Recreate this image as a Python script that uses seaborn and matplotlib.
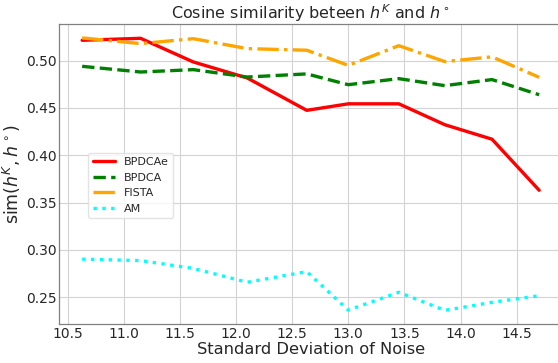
import matplotlib
matplotlib.use("Agg")
import matplotlib.pyplot as plt
import seaborn as sns
import pandas as pd

noise_std = [10.63, 11.15, 11.62, 12.10, 12.63, 13.00, 13.45, 13.86, 14.28, 14.70]
bpdcae = [0.5215, 0.5236, 0.4986, 0.4817, 0.4475, 0.4544, 0.4544, 0.4323, 0.4170, 0.3631]
bpdca = [0.4940, 0.4880, 0.4905, 0.4827, 0.4860, 0.4746, 0.4810, 0.4736, 0.4800, 0.4640]
fista = [0.5240, 0.5180, 0.5232, 0.5127, 0.5110, 0.4950, 0.5158, 0.4990, 0.5040, 0.4824]
am = [0.2903, 0.2888, 0.2805, 0.2659, 0.2771, 0.2365, 0.2553, 0.2362, 0.2447, 0.2517]

series_names = ["BPDCAe", "BPDCA", "FISTA", "AM"]
series_values = [bpdcae, bpdca, fista, am]
colors = ["red", "green", "orange", "cyan"]
styles = ["-", "--", "-.", ":"]

sns.set_theme(style="whitegrid")
plt.rcParams["font.family"] = ["DejaVu Sans"]
plt.rcParams["mathtext.fontset"] = "dejavusans"

fig = plt.figure(figsize=(5.58, 3.63), dpi=100)
ax = fig.add_axes([59.3 / 558, 39 / 363, 502.7 / 558, 299.7 / 363])

for name, vals, c, ls in zip(series_names, series_values, colors, styles):
    df = pd.DataFrame({"x": noise_std, "y": vals})
    sns.lineplot(data=df, x="x", y="y", ax=ax, color=c, linestyle=ls,
                 linewidth=2.4, label=name)

ax.set_title(r"Cosine similarity beteen $h^K$ and $h^\circ$", fontsize=11.5, pad=4)
ax.set_xlabel("Standard Deviation of Noise", fontsize=11.7, labelpad=1)
ax.set_ylabel(r"sim($h^K, h^\circ$)", fontsize=12.5, labelpad=2)
ax.set_xticks([10.5, 11.0, 11.5, 12.0, 12.5, 13.0, 13.5, 14.0, 14.5])
ax.set_yticks([0.25, 0.30, 0.35, 0.40, 0.45, 0.50])
ax.tick_params(axis="both", labelsize=10, pad=2, length=0)
ax.grid(True, color="#d3d3d3", linewidth=0.8)
for s in ax.spines.values():
    s.set_color("#808080")
    s.set_linewidth(0.9)

ax.legend(loc="upper left", bbox_to_anchor=(0.058, 0.572), borderaxespad=0,
          fontsize=8, frameon=True, framealpha=0.8, edgecolor="#dddddd")

fig.savefig("out.png", dpi=100)
